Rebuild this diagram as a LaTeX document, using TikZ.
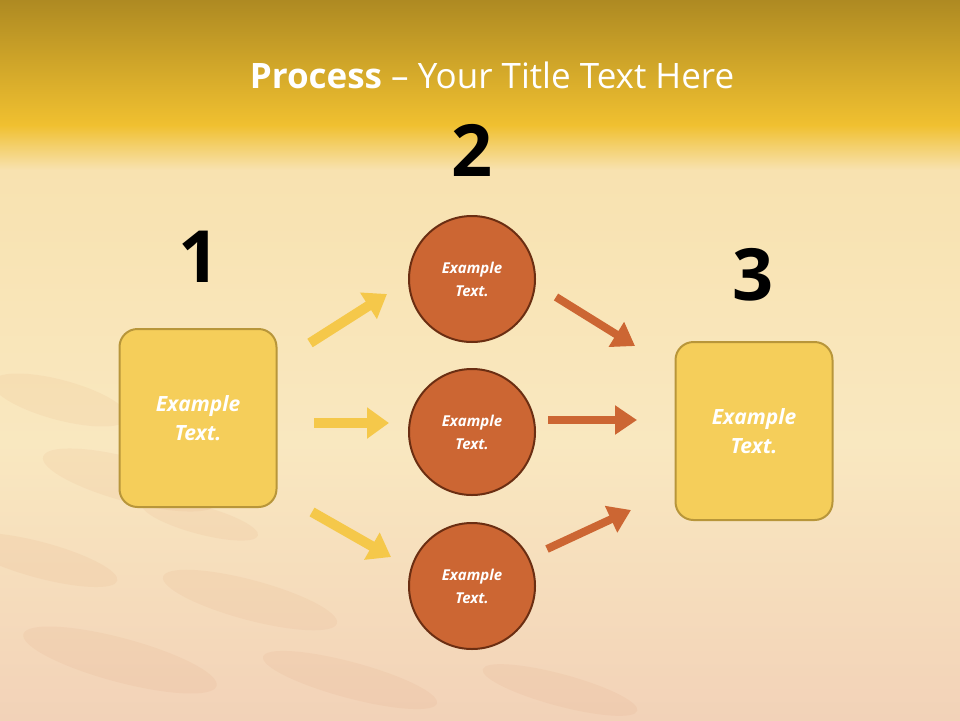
\documentclass[tikz,border=0pt]{standalone}
\usepackage{fontspec}
\setmainfont{Open Sans}
\usetikzlibrary{arrows.meta}
\definecolor{boxfill}{HTML}{F5CE5A}
\definecolor{boxline}{HTML}{B8963A}
\definecolor{circfill}{HTML}{CC6633}
\definecolor{circline}{HTML}{6B2E12}
\definecolor{yarrow}{HTML}{F5C84A}
\definecolor{topA}{HTML}{AE8A22}
\definecolor{topB}{HTML}{F0C030}
\definecolor{midA}{HTML}{F8E2B0}
\definecolor{botA}{HTML}{F2D2B8}
\tikzset{
  stepbox/.style={draw=boxline,line width=2pt,fill=boxfill,rounded corners=18pt,minimum width=157pt,minimum height=178pt,text=white,font=\bfseries\itshape\fontsize{21}{29}\selectfont,align=center},
  circ/.style={circle,draw=circline,line width=2pt,fill=circfill,minimum size=126pt,text=white,font=\bfseries\itshape\fontsize{15}{23}\selectfont,align=center},
  num/.style={font=\bfseries\fontsize{72}{80}\selectfont,text=black},
  yarr/.style={draw=yarrow,line width=10pt,-{Triangle[length=22pt,width=30pt]}},
  oarr/.style={draw=circfill,line width=8pt,-{Triangle[length=22pt,width=28pt]}}
}
\begin{document}
\begin{tikzpicture}[x=1pt,y=-1pt]
\useasboundingbox (0,0) rectangle (960,720);
\shade[top color=topA,bottom color=topB] (0,0) rectangle (960,125);
\shade[top color=topB,bottom color=midA] (0,125) rectangle (960,170);
\shade[top color=midA,bottom color=botA,middle color=midA!80!white] (0,170) rectangle (960,720);
\foreach \x/\y/\a/\b in {60/400/70/20,130/480/90/22,40/560/80/18,250/600/90/20,120/660/100/22,350/680/90/18,560/690/80/16,200/520/60/14}
  \fill[circfill,opacity=0.06,rotate around={-15:(\x,\y)}] (\x,\y) ellipse[x radius=\a,y radius=\b];
\node (title) at (492,75) {\color{white}\fontsize{35}{41}\selectfont\textbf{Process} – Your Title Text Here};
\node[stepbox] (b1) at (198,418) {Example\\Text.};
\node[stepbox] (b3) at (754,431) {Example\\Text.};
\node[circ] (c1) at (472,279) {Example\\Text.};
\node[circ] (c2) at (472,432) {Example\\Text.};
\node[circ] (c3) at (472,586) {Example\\Text.};
\node[num] (n1) at (199,257) {1};
\node[num] (n2) at (472,150) {2};
\node[num] (n3) at (753,275) {3};
\coordinate (y1s) at (310,343); \coordinate (y1e) at (387,294);
\coordinate (y2s) at (314,423); \coordinate (y2e) at (389,423);
\coordinate (y3s) at (312,512); \coordinate (y3e) at (391,557);
\coordinate (o1s) at (556,297); \coordinate (o1e) at (635,346);
\coordinate (o2s) at (548,420); \coordinate (o2e) at (637,420);
\coordinate (o3s) at (547,549); \coordinate (o3e) at (631,510);
\draw[yarr] (y1s) -- (y1e);
\draw[yarr] (y2s) -- (y2e);
\draw[yarr] (y3s) -- (y3e);
\draw[oarr] (o1s) -- (o1e);
\draw[oarr] (o2s) -- (o2e);
\draw[oarr] (o3s) -- (o3e);
\end{tikzpicture}
\end{document}
